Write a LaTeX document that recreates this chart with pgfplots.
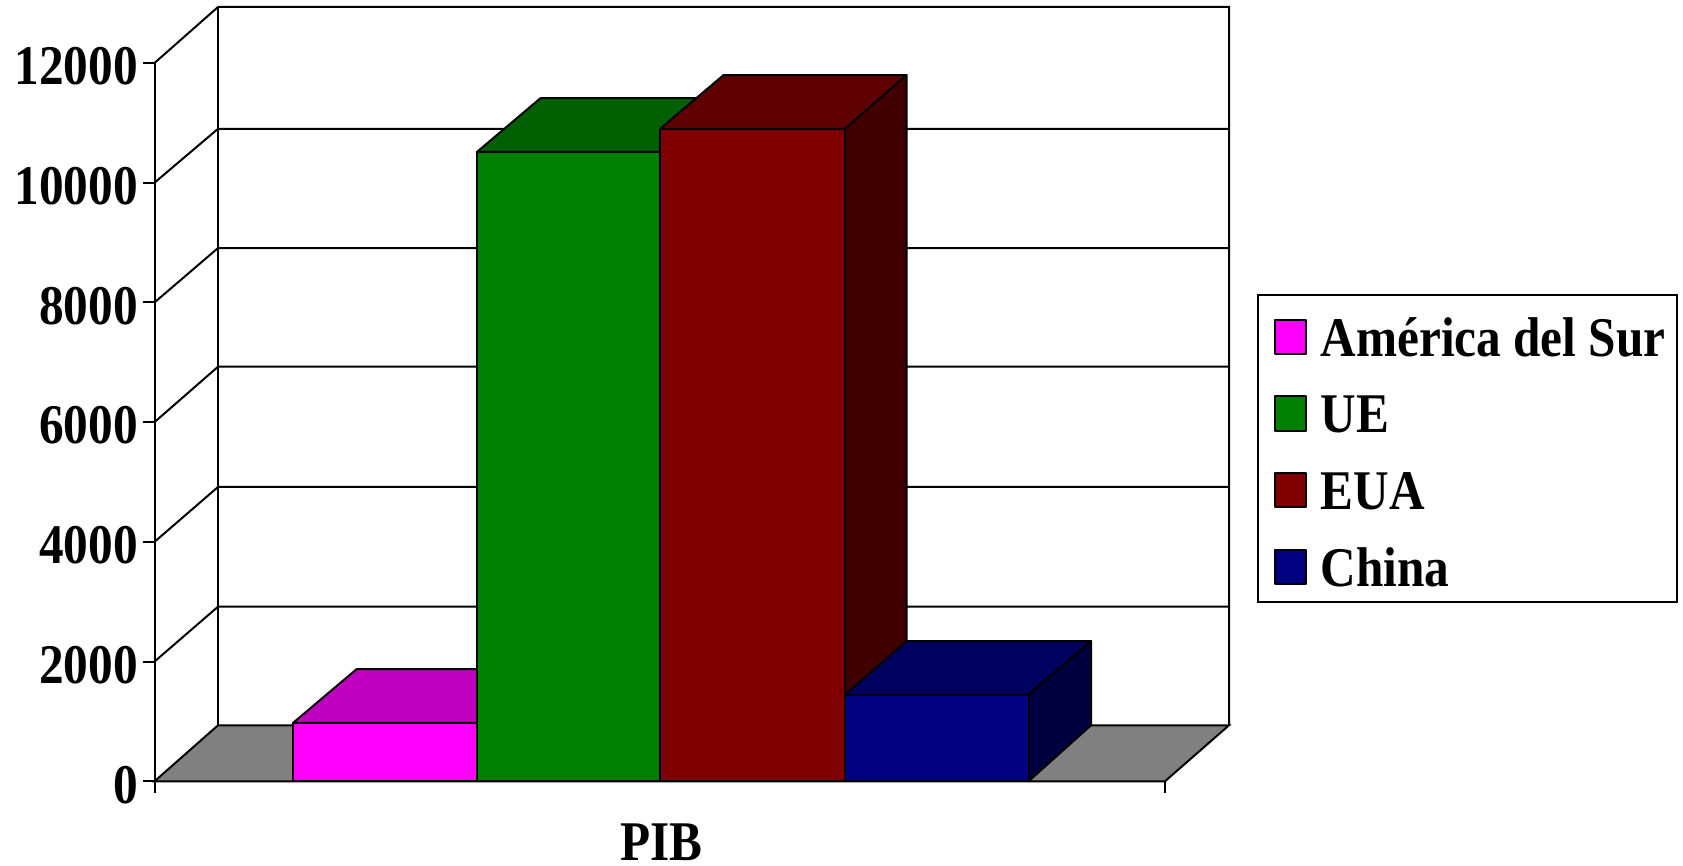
\documentclass[border=0pt]{standalone}
\usepackage{fontspec}
\setmainfont{Liberation Serif}[FakeStretch=0.88]
\usepackage{pgfplots}
\pgfplotsset{compat=1.18}

\definecolor{saFront}{HTML}{FF00FF}
\definecolor{saTop}{HTML}{BF00BF}
\definecolor{ueFront}{HTML}{008000}
\definecolor{ueTop}{HTML}{005F00}
\definecolor{euaFront}{HTML}{800000}
\definecolor{euaTop}{HTML}{5F0000}
\definecolor{euaSide}{HTML}{400000}
\definecolor{chFront}{HTML}{000080}
\definecolor{chTop}{HTML}{00005F}
\definecolor{chSide}{HTML}{000040}

\begin{document}
\begin{tikzpicture}
\useasboundingbox (0,0) rectangle (1683pt,865pt);
\begin{axis}[
    at={(154.5pt,83.7pt)},
    anchor=origin,
    scale only axis,
    width=1010.5pt,
    height=718.3pt,
    xmin=0, xmax=1010.5,
    ymin=0, ymax=12000,
    clip=false,
    axis lines*=left,
    axis line style={-, line width=2pt},
    tick style={black, line width=2pt},
    tick align=outside,
    major tick length=11.5pt,
    xtick={0,1010.5},
    xticklabels={,,},
    ytick={0,2000,4000,6000,8000,10000,12000},
    scaled y ticks=false,
    yticklabel style={/pgf/number format/fixed, /pgf/number format/1000 sep={},
        /pgf/number format/assume math mode=true,
        font=\fontsize{56}{56}\selectfont\bfseries, inner sep=0pt, xshift=-5pt, yshift=-3.5pt},
    xlabel={PIB},
    xlabel style={font=\fontsize{56}{56}\selectfont\bfseries, at={(axis description cs:0.5,0)}, anchor=base, xshift=1.5pt, yshift=-79.4pt},
    legend style={
        at={(axis cs:1103.8,8118)}, anchor=north west,
        draw=black, line width=2pt,
        font=\fontsize{56}{56}\selectfont\bfseries,
        legend cell align=left,
        inner xsep=11pt, inner ysep=15.7pt, outer sep=0pt,
        row sep=31.7pt,
        /tikz/column 1/.style={column sep=14pt},
        nodes={inner sep=0pt, text height=45pt, text depth=0pt, anchor=base west},
    },
    legend image code/.code={
        \path[draw=none, fill=none] (0pt,0pt) -- (34.2pt,0pt);
        \draw[#1, line width=2pt] (5.6pt,2.2pt) rectangle (36.3pt,36.4pt);
    },
    wall/.style={black, line width=2pt, forget plot},
    face/.style={draw=black, line width=2pt, line join=round},
]

% floor and back walls
\addplot[wall, fill=gray] coordinates {(0,0)(63.5,935.5)(1074.5,935.5)(1010.5,0)} -- cycle;
\addplot[wall] coordinates {(0,2000)(63.5,2917)(1074.5,2917)};
\addplot[wall] coordinates {(0,4000)(63.5,4917)(1074.5,4917)};
\addplot[wall] coordinates {(0,6000)(63.5,6926)(1074.5,6926)};
\addplot[wall] coordinates {(0,8000)(63.5,8908)(1074.5,8908)};
\addplot[wall] coordinates {(0,10000)(63.5,10900)(1074.5,10900)};
\addplot[wall] coordinates {(0,12000)(63.5,12935.5)(1074.5,12935.5)(1074.5,935.5)};
\addplot[wall] coordinates {(63.5,935.5)(63.5,12935.5)};

% America del Sur
\addplot[face, forget plot, fill=saTop] coordinates {(138.5,975)(202,1872)(386,1872)(322.5,975)} -- cycle;
\addplot[face, fill=saFront] coordinates {(138.5,0)(138.5,975)(322.5,975)(322.5,0)} -- cycle;
\addlegendentry{América del Sur}

% UE
\addplot[face, forget plot, fill=ueTop] coordinates {(322.5,10515)(386,11412)(569,11412)(505.5,10515)} -- cycle;
\addplot[face, fill=ueFront] coordinates {(322.5,0)(322.5,10515)(505.5,10515)(505.5,0)} -- cycle;
\addlegendentry{UE}

% EUA
\addplot[face, forget plot, fill=euaTop] coordinates {(505.5,10900)(569,11797)(752,11797)(690.5,10900)} -- cycle;
\addplot[face, forget plot, fill=euaSide] coordinates {(690.5,0)(690.5,10900)(752,11797)(752,935.5)} -- cycle;
\addplot[face, fill=euaFront] coordinates {(505.5,0)(505.5,10900)(690.5,10900)(690.5,0)} -- cycle;
\addlegendentry{EUA}

% China
\addplot[face, forget plot, fill=chTop] coordinates {(690.5,1445)(752,2342)(936.5,2342)(874,1445)} -- cycle;
\addplot[face, forget plot, fill=chSide] coordinates {(874,0)(874,1445)(936.5,2342)(936.5,935.5)} -- cycle;
\addplot[face, fill=chFront] coordinates {(690.5,0)(690.5,1445)(874,1445)(874,0)} -- cycle;
\addlegendentry{China}

\end{axis}
\end{tikzpicture}
\end{document}
